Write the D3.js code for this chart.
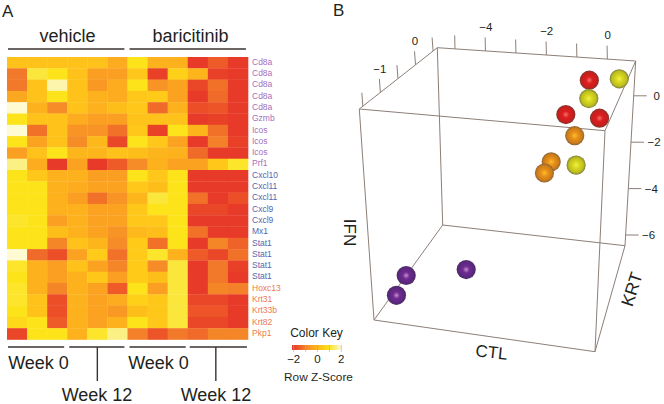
<!DOCTYPE html>
<html>
<head>
<meta charset="utf-8">
<script src="https://cdn.jsdelivr.net/npm/d3@7"></script>
<style>
  html, body { margin: 0; padding: 0; background: #fff; }
  text { font-family: "Liberation Sans", Arial, sans-serif; fill: #231f20; }
</style>
</head>
<body>
<div id="chart"></div>
<script>
// heatmap data, row z-scores
var genes = ['Cd8a','Cd8a','Cd8a','Cd8a','Cd8a','Gzmb','Icos','Icos','Icos','Prf1',
  'Cxcl10','Cxcl11','Cxcl11','Cxcl9','Cxcl9','Mx1','Stat1','Stat1','Stat1','Stat1',
  'Hoxc13','Krt31','Krt33b','Krt82','Pkp1'];
var geneGroups = [0,0,0,0,0,0,0,0,0,0,1,1,1,1,1,1,1,1,1,1,2,2,2,2,2];
var groupColors = ['#a66fbc', '#5666ae', '#ee7a50'];
var samples = ['v1','v2','v3','v4','v5','v6','b1','b2','b3','b4','b5','b6'];
var zScores = [
  [.3,.3,.3,.3,.3,-.2,   1,-.1,-.1,-2,-1.5,-2],
  [-1.1,1.2,1,.3,-.5,-.5,   .4,-1.9,.6,0,-1.9,-2],
  [-1.1,.3,1.8,.3,-.6,-.2,   1,-.7,-.4,-1.8,-1.2,-2],
  [-.3,.3,1,.3,-.1,-.2,   .4,.5,-.4,-2,-1.3,-2],
  [2,-.1,-.8,.3,-.1,.2,   .4,-1.3,-.1,-1.7,-1.6,-2],
  [1,.3,.3,-.2,-.5,-.5,   .3,.3,.3,-2,-1.9,-2],
  [2,-1.2,.3,-.7,-.7,-1.2,   .4,-1.9,1,0,-1.2,-2],
  [1,-.4,.3,-.8,.1,-1.8,   1,.4,-.4,-2,-1,-1.9],
  [-.5,.3,1,0,0,.3,   .2,0,-.1,-1.3,-2,-2],
  [1.6,-.2,-2,-.4,-2,-1.5,   -.8,-.1,-.4,-.4,.4,1.1],
  [1,.4,-.1,-.1,-.5,-.5,   1,.4,1,-2,-2,-2],
  [1,1,-.1,-.2,-.4,-.4,   .4,.2,1,-2,-2,-2],
  [1,1,-.1,-.5,-1.2,-.7,   0,1.2,1,-1.2,-2,-1.7],
  [1,1,-.1,-.1,-.4,-.4,   .4,1,1,-1.8,-1.8,-2],
  [1.1,1,-.5,-.1,-.4,-.4,   .4,.4,1,-2,-2,-2],
  [1,1,.2,-.1,-.4,-.7,   .1,.2,1,-1.2,-2,-2],
  [1,1,-.9,.3,0,-.8,   .5,-1.2,1,-2,-.9,-1.4],
  [2,-1.3,-1.7,-.4,.5,-1.2,   .5,1.1,-.1,-1.5,-1.8,-1.2],
  [1.1,-.1,-.5,.3,-.4,-.9,   .5,-.8,1.2,-2,-1.1,-1.9],
  [1,-.1,-.5,-.1,.4,-.5,   .5,.2,1.2,-2,-1.1,-2],
  [1.1,-.1,-.9,-.1,-.4,-1.5,   1,-.5,1.2,-2,-.9,-1],
  [1.1,.3,-1.7,-.1,-.4,-.2,   .6,.4,1.2,-1.8,-1.8,-2],
  [1,.3,-1.7,-.1,-.4,-.6,   .2,.4,1.2,-1.6,-1.6,-2],
  [.8,1,-1.5,-.1,-.4,-.1,   1,.4,1.2,-1.8,-1.8,-2],
  [-1.8,1,1,-.1,1.1,1.6,   -1,-1.6,-1.1,-1.3,-.9,-.9]
];
var colorStops = [-2,-1.5,-1,-.5,0,.5,1,1.5,2];
var colorRange = ['#e83a28','#ee5b28','#f4802a','#fa9f22','#fdb51c','#ffcb18','#fde31a','#f9ee70','#fefad2'];
var keyTicks = [-2,-1,0,1,2];

// 3d scatter data
var ctlValues = [-.44,.52,-.2,-.65,.44,-.26,-.93,-1,-.09,-5.58,-5.45,-3.9];
var krtValues = [.4,.4,-.05,-.49,-.71,-.71,-.71,-.93,-.93,-.56,-1.01,-.27];
var ifnValues = [.85,1,.71,.59,.85,.09,-1.01,-1.15,-.73,-6.46,-6.46,-6.46];
var pointGroups = ['red','yellow','yellow','red','red','orange','orange','orange','yellow','purple','purple','purple'];
var ctlTicks = [-5,-4,-3,-2,-1,0];
var krtTicks = [.5,0,-.5,-1,-1.5];
var ifnTicks = [0,-2,-4,-6];

var width = 664, height = 404;
var svg = d3.select('#chart').append('svg')
  .attr('width', width).attr('height', height)
  .style('display', 'block');
var defs = svg.append('defs');

// panel letters
svg.append('text').attr('x', 2).attr('y', 16.5).attr('font-size', 17).text('A');
svg.append('text').attr('x', 333).attr('y', 16).attr('font-size', 17).text('B');

// ---- heatmap ----
var xscl = d3.scaleBand().domain(d3.range(samples.length)).range([7, 248]);
var yscl = d3.scaleBand().domain(d3.range(genes.length)).range([57, 339.5]);
var color = d3.scaleLinear().domain(colorStops).range(colorRange).clamp(true);

var heat = svg.append('g');
zScores.forEach(function(row, r) {
  heat.selectAll('rect.r' + r)
    .data(row)
    .enter().append('rect')
    .attr('class', 'r' + r)
    .attr('x', function(d, c) { return xscl(c); })
    .attr('y', yscl(r))
    .attr('width', xscl.bandwidth() + .3)
    .attr('height', yscl.bandwidth() + .3)
    .attr('fill', function(d) { return color(d); });
});

svg.append('g').selectAll('text')
  .data(genes)
  .enter().append('text')
  .attr('x', 252)
  .attr('y', function(d, i) { return yscl(i) + yscl.bandwidth() / 2; })
  .attr('dy', '0.25em')
  .attr('font-size', 8.5)
  .style('fill', function(d, i) { return groupColors[geneGroups[i]]; })
  .text(function(d) { return d; });

// group brackets above and below the heatmap
function hline(x1, x2, y) {
  svg.append('line').attr('x1', x1).attr('x2', x2).attr('y1', y).attr('y2', y)
    .attr('stroke', '#3a3330').attr('stroke-width', 1.4);
}
function label(x, y, txt, size) {
  return svg.append('text').attr('x', x).attr('y', y)
    .attr('text-anchor', 'middle').attr('font-size', size).text(txt);
}
hline(xscl(0) + 1, xscl(5) + 17, 49);
hline(xscl(6) + 2, xscl(11) + 18, 49);
label(67.5, 41.5, 'vehicle', 18);
label(190.5, 41.5, 'baricitinib', 18);

hline(xscl(0) + 1, xscl(2) + 17, 347);
hline(xscl(3) + 2, xscl(5) + 17, 347);
hline(xscl(6) + 2, xscl(8) + 18, 347);
hline(xscl(9) + 2, xscl(11) + 19, 347);
[xscl(4) + 10, xscl(10) + 8].forEach(function(x) {
  svg.append('line').attr('x1', x).attr('x2', x).attr('y1', 347).attr('y2', 381)
    .attr('stroke', '#3a3330').attr('stroke-width', 1.4);
});
label(38.5, 368.5, 'Week 0', 18);
label(158.5, 368.5, 'Week 0', 18);
label(97, 400.5, 'Week 12', 18);
label(216, 400.5, 'Week 12', 18);

// color key
var keyScale = d3.scaleLinear().domain([-2.1, 2.1]).range([292, 342]);
var grad = defs.append('linearGradient').attr('id', 'keyGrad');
colorStops.forEach(function(s) {
  grad.append('stop')
    .attr('offset', (keyScale(s) - 292) / 50)
    .attr('stop-color', color(s));
});
label(316.5, 337, 'Color Key', 12);
svg.append('rect').attr('x', 292).attr('y', 345).attr('width', 50).attr('height', 5)
  .attr('fill', 'url(#keyGrad)');
var keyAxis = svg.append('g').attr('transform', 'translate(0,345)')
  .call(d3.axisBottom(keyScale).tickValues(keyTicks).tickSize(7)
    .tickFormat(function(d) { return d % 2 == 0 ? String(d).replace('-', '\u2212') : ''; }));
keyAxis.select('.domain').remove();
keyAxis.selectAll('line').attr('stroke', '#b9a98c').attr('stroke-width', .6);
keyAxis.selectAll('text').attr('font-size', 11.5).attr('y', 10).attr('dy', '0.71em')
  .attr('font-family', '"Liberation Sans", Arial, sans-serif');
label(318.5, 381, 'Row Z-Score', 11.8);

// ---- 3d box ----
// each axis goes to 0..1 along its edge of the box
var ctlScale = d3.scaleLinear().domain([-5.58, .93]).range([0, 1]);
var krtScale = d3.scaleLinear().domain([.62, -1.6]).range([0, 1]);
var ifnScale = d3.scaleLinear().domain([-6.46, 1.5]).range([0, 1]);

// corners of the box on the page, [u][v][w]
var corners = {
  '000': [442.7, 225],   '100': [625, 245.7],
  '010': [374, 320],     '110': [595, 351.7],
  '001': [437.3, 47.7],  '101': [635.7, 61],
  '011': [359.3, 109],   '111': [605, 130.7]
};
function project(u, v, w) {
  var p = [0, 0];
  [0, 1].forEach(function(a) {
    [0, 1].forEach(function(b) {
      [0, 1].forEach(function(c) {
        var k = (a ? u : 1 - u) * (b ? v : 1 - v) * (c ? w : 1 - w);
        var q = corners['' + a + b + c];
        p[0] += k * q[0];
        p[1] += k * q[1];
      });
    });
  });
  return p;
}

var edges = [
  ['001','101'],['101','111'],['111','011'],['011','001'],
  ['000','100'],['100','110'],['110','010'],['010','000'],
  ['000','001'],['100','101'],['110','111'],['010','011']
];
var boxColor = '#8c7f78';
var box = svg.append('g');
box.selectAll('line.edge')
  .data(edges)
  .enter().append('line')
  .attr('class', 'edge')
  .attr('x1', function(d) { return corners[d[0]][0]; })
  .attr('y1', function(d) { return corners[d[0]][1]; })
  .attr('x2', function(d) { return corners[d[1]][0]; })
  .attr('y2', function(d) { return corners[d[1]][1]; })
  .attr('stroke', boxColor)
  .attr('stroke-width', 1);

function tick(p, dx, dy) {
  box.append('line')
    .attr('x1', p[0]).attr('y1', p[1])
    .attr('x2', p[0] + dx).attr('y2', p[1] + dy)
    .attr('stroke', boxColor).attr('stroke-width', 1);
}
function tickLabel(x, y, v) {
  svg.append('text').attr('x', x).attr('y', y)
    .attr('text-anchor', 'middle').attr('dy', '0.36em')
    .attr('font-size', 11.5)
    .text(String(v).replace('-', '\u2212'));
}
ctlTicks.forEach(function(t) {
  var p = project(ctlScale(t), 0, 1);
  tick(p, -.3, -13.5);
  if (t % 2 == 0) tickLabel(p[0] + .3, p[1] - 24, t);
});
krtTicks.forEach(function(t) {
  var p = project(0, krtScale(t), 1);
  tick(p, -1, -13.5);
  if (t == 0 || t == -1) tickLabel(p[0] - .5, p[1] - 24, t);
});
ifnTicks.forEach(function(t) {
  var p = project(1, 0, ifnScale(t));
  tick(p, 13, 0);
  tickLabel(p[0] + 23, p[1], t);
});

// axis titles
svg.append('text').attr('font-size', 17).attr('text-anchor', 'middle')
  .attr('transform', 'translate(344,232.5) rotate(90)').text('IFN');
svg.append('text').attr('font-size', 17).attr('text-anchor', 'middle')
  .attr('transform', 'translate(491,358) rotate(6)').text('CTL');
svg.append('text').attr('font-size', 17.5).attr('text-anchor', 'middle')
  .attr('transform', 'translate(637.5,291) rotate(-72)').text('KRT');

// spheres
var sphereColors = {
  red:    ['#f4706a', '#dc1f1f', '#c81e1e', '#7a3a30'],
  yellow: ['#f4f04a', '#d8d81e', '#bcbc20', '#7a7a3c'],
  orange: ['#ffbe2a', '#e8921a', '#cc7c18', '#86643a'],
  purple: ['#c98fd0', '#6f2c90', '#5c2680', '#4a3060']
};
Object.keys(sphereColors).forEach(function(k) {
  var g = defs.append('radialGradient').attr('id', 'ball-' + k)
    .attr('cx', '50%').attr('cy', '50%').attr('r', '50%');
  [0, .35, .78, 1].forEach(function(o, i) {
    g.append('stop').attr('offset', o).attr('stop-color', sphereColors[k][i]);
  });
});
svg.append('g').selectAll('circle')
  .data(ctlValues)
  .enter().append('circle')
  .attr('cx', function(d, i) { return project(ctlScale(d), krtScale(krtValues[i]), ifnScale(ifnValues[i]))[0]; })
  .attr('cy', function(d, i) { return project(ctlScale(d), krtScale(krtValues[i]), ifnScale(ifnValues[i]))[1]; })
  .attr('r', 9.6)
  .attr('fill', function(d, i) { return 'url(#ball-' + pointGroups[i] + ')'; });
</script>
</body>
</html>
